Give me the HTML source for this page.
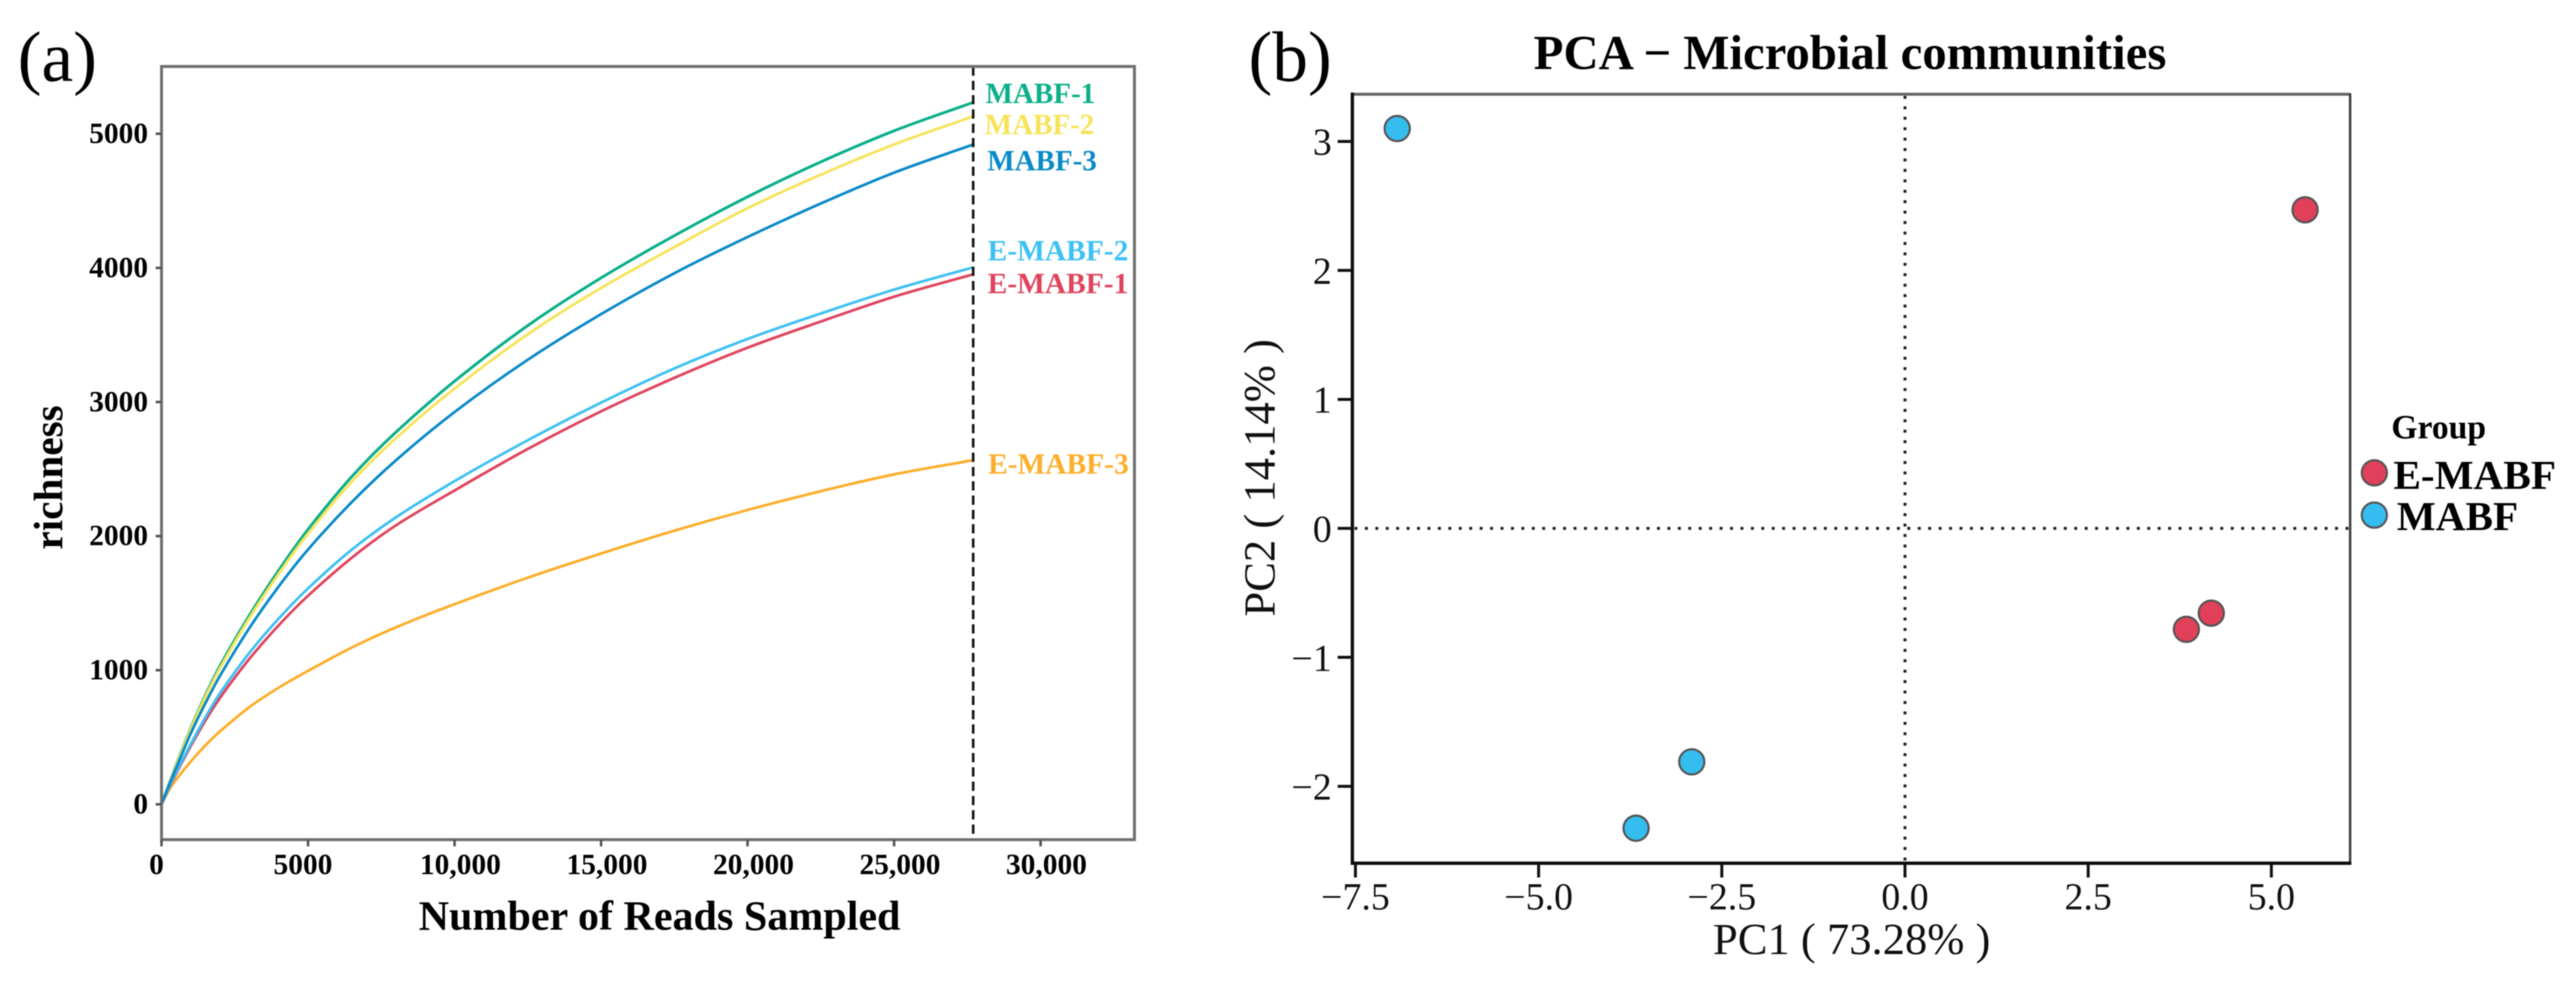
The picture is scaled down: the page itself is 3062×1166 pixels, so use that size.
<!DOCTYPE html>
<html lang="en">
<head>
<meta charset="utf-8">
<title>Rarefaction curves and PCA of microbial communities</title>
<style>
html,body{margin:0;padding:0;background:#fff;}
body{width:3062px;height:1166px;overflow:hidden;}
svg{display:block;filter:blur(0.5px);font-family:"Liberation Serif",serif;}
.bold{font-weight:bold;}
</style>
</head>
<body>
<svg id="figure" xmlns="http://www.w3.org/2000/svg" width="3062" height="1166" viewBox="0 0 3062 1166">
  <rect x="0" y="0" width="3062" height="1166" fill="#fff"/>

  <g id="panel-a">
    <text x="21" y="96" font-size="85" fill="#000">(a)</text>
    <g id="a-marks"></g>
    <rect x="192" y="79" width="1156.5" height="919" fill="none" stroke="#6f6f6f" stroke-width="3.5"/>
    <g id="a-ticks"></g>
    <text class="bold" x="784" y="1105" font-size="50" text-anchor="middle" fill="#000">Number of Reads Sampled</text>
    <text class="bold" transform="translate(74 567.5) rotate(-90)" font-size="49" text-anchor="middle" fill="#000">richness</text>
  </g>

  <g id="panel-b">
    <text x="1484" y="96" font-size="85" fill="#000">(b)</text>
    <text class="bold" x="2199" y="82" font-size="58" text-anchor="middle" fill="#000">PCA − Microbial communities</text>
    <line x1="1607" y1="112" x2="2794" y2="112" stroke="#666" stroke-width="3.5"/>
    <line x1="2793.5" y1="111" x2="2793.5" y2="1027" stroke="#444" stroke-width="3"/>
    <line x1="1607.5" y1="110" x2="1607.5" y2="1028" stroke="#111" stroke-width="4"/>
    <line x1="1606" y1="1026" x2="2795" y2="1026" stroke="#111" stroke-width="4"/>
    <g id="b-marks"></g>
    <g id="b-ticks"></g>
    <text x="2201" y="1134" font-size="53" text-anchor="middle" fill="#111">PC1 ( 73.28% )</text>
    <text transform="translate(1515 568) rotate(-90)" font-size="53" text-anchor="middle" fill="#111">PC2 ( 14.14% )</text>

    <g>
      <text class="bold" x="2842.5" y="521" font-size="40" fill="#000">Group</text>
      <circle cx="2822.3" cy="562" r="15" fill="#e0405a" stroke="#555" stroke-width="2.5"/>
      <text class="bold" x="2845" y="581" font-size="49" fill="#000">E-MABF</text>
      <circle cx="2822.3" cy="612.3" r="15" fill="#35bdef" stroke="#555" stroke-width="2.5"/>
      <text class="bold" x="2849" y="630" font-size="49" fill="#000">MABF</text>
    </g>
  </g>
</svg>
<script>
// Rarefaction chart data
const readsSampled = [0,250,500,1000,1500,2000,3000,4000,5000,6500,8000,10000,12500,15000,17500,20000,22500,25000,27700];
const mabf1  = [0,150,295,570,815,1035,1410,1745,2050,2445,2775,3155,3570,3925,4240,4530,4790,5022,5234];
const mabf2  = [0,148,290,562,803,1018,1390,1720,2020,2408,2730,3100,3505,3850,4155,4445,4695,4920,5130];
const mabf3  = [0,140,272,530,755,960,1315,1625,1900,2255,2565,2925,3315,3655,3960,4230,4480,4710,4920];
const emabf1 = [0,120,230,435,625,795,1085,1335,1555,1840,2080,2340,2650,2930,3180,3405,3600,3785,3952];
const emabf2 = [0,125,240,450,650,830,1130,1385,1610,1900,2140,2410,2715,2995,3250,3470,3660,3838,4004];
const emabf3 = [0,105,185,320,440,545,725,870,995,1170,1320,1492,1690,1870,2040,2195,2335,2460,2566];
const rarefactionDepth = 27700;
const richnessTicks = [0,1000,2000,3000,4000,5000];
const readsTicks = [0,5000,10000,15000,20000,25000,30000];
const readsTickLabels = ["0","5000","10,000","15,000","20,000","25,000","30,000"];

// PCA chart data
const emabfPc1 = [5.46,4.18,3.84];
const emabfPc2 = [2.47,-0.657,-0.783];
const mabfPc1 = [-6.93,-2.91,-3.67];
const mabfPc2 = [3.10,-1.81,-2.325];
const pc1Ticks = [-7.5,-5,-2.5,0,2.5,5];
const pc1TickLabels = ["−7.5","−5.0","−2.5","0.0","2.5","5.0"];
const pc2Ticks = [-2,-1,0,1,2,3];
const pc2TickLabels = ["−2","−1","0","1","2","3"];

const NS = "http://www.w3.org/2000/svg";
function mk(tag, parent, attrs) {
  const el = document.createElementNS(NS, tag);
  for (const k in attrs) el.setAttribute(k, attrs[k]);
  parent.appendChild(el);
  return el;
}

// Axis functions
function ax(v) { return 192 + 0.03483 * v; }
function ay(v) { return 956 - 0.1594 * v; }
function bx(v) { return 2264.4 + 87.1 * v; }
function by(v) { return 628 - 153.3 * v; }
function aLabelShift(v) { return v <= 5000 ? -6 : 7; }

function curvePath(xs, ys) {
  const px = xs.map(ax), py = ys.map(ay);
  const n = px.length;
  const m = [];
  for (let i = 0; i < n; i++) {
    const a = Math.max(i - 1, 0), b = Math.min(i + 1, n - 1);
    m.push((py[b] - py[a]) / (px[b] - px[a]));
  }
  let d = "M" + px[0].toFixed(2) + " " + py[0].toFixed(2);
  for (let i = 0; i < n - 1; i++) {
    const dx = px[i + 1] - px[i];
    d += "C" + (px[i] + dx / 3).toFixed(2) + " " + (py[i] + m[i] * dx / 3).toFixed(2) + " " +
         (px[i + 1] - dx / 3).toFixed(2) + " " + (py[i + 1] - m[i + 1] * dx / 3).toFixed(2) + " " +
         px[i + 1].toFixed(2) + " " + py[i + 1].toFixed(2);
  }
  return d;
}

const aMarks = document.getElementById("a-marks");
const aTicks = document.getElementById("a-ticks");
const bMarks = document.getElementById("b-marks");
const bTicks = document.getElementById("b-ticks");

// Rarefaction curves (drawn back to front)
const curveOrange = mk("path", aMarks, {d: curvePath(readsSampled, emabf3), fill: "none", stroke: "#fdae2b", "stroke-width": 3.2});


const curveRed = mk("path", aMarks, {d: curvePath(readsSampled, emabf1), fill: "none", stroke: "#e0455e", "stroke-width": 3.2});


const curveSky = mk("path", aMarks, {d: curvePath(readsSampled, emabf2), fill: "none", stroke: "#3fc1f3", "stroke-width": 3.2});


const curveGreen = mk("path", aMarks, {d: curvePath(readsSampled, mabf1), fill: "none", stroke: "#0cb08a", "stroke-width": 3.4});


const curveYellow = mk("path", aMarks, {d: curvePath(readsSampled, mabf2), fill: "none", stroke: "#f7e35a", "stroke-width": 3.2});


const curveBlue = mk("path", aMarks, {d: curvePath(readsSampled, mabf3), fill: "none", stroke: "#0a8ac9", "stroke-width": 3.2});



const depthLine = mk("line", aMarks, {x1: ax(rarefactionDepth), x2: ax(rarefactionDepth), y1: 79, y2: 998, stroke: "#111", "stroke-width": 3, "stroke-dasharray": "11 6"});



// End-of-curve labels
const lblM1 = mk("text", aMarks, {x: 1171.5, y: 122.5, "font-size": 34.5, "font-weight": "bold", fill: "#0cb08a"});
lblM1.textContent = "MABF-1";


const lblM2 = mk("text", aMarks, {x: 1170.5, y: 159.5, "font-size": 34.5, "font-weight": "bold", fill: "#f7e35a"});
lblM2.textContent = "MABF-2";


const lblM3 = mk("text", aMarks, {x: 1173.5, y: 202.5, "font-size": 34.5, "font-weight": "bold", fill: "#0a8ac9"});
lblM3.textContent = "MABF-3";


const lblE2 = mk("text", aMarks, {x: 1174, y: 309.5, "font-size": 35, "font-weight": "bold", fill: "#3fc1f3"});
lblE2.textContent = "E-MABF-2";


const lblE1 = mk("text", aMarks, {x: 1174, y: 348.5, "font-size": 35, "font-weight": "bold", fill: "#e0455e"});
lblE1.textContent = "E-MABF-1";


const lblE3 = mk("text", aMarks, {x: 1174.5, y: 563, "font-size": 35, "font-weight": "bold", fill: "#fdae2b"});
lblE3.textContent = "E-MABF-3";



// Rarefaction ticks
richnessTicks.forEach(function (v) {
  const t = mk("line", aTicks, {x1: 185, x2: 192, y1: ay(v), y2: ay(v), stroke: "#555", "stroke-width": 3});
  
  
  const l = mk("text", aTicks, {x: 176, y: ay(v) + 11, "font-size": 35, "font-weight": "bold", "text-anchor": "end", fill: "#000"});
  l.textContent = String(v);
  
  
});
readsTicks.forEach(function (v, i) {
  const t = mk("line", aTicks, {x1: ax(v), x2: ax(v), y1: 998, y2: 1006, stroke: "#555", "stroke-width": 3});
  
  
  const l = mk("text", aTicks, {x: ax(v) + aLabelShift(v), y: 1039, "font-size": 35, "font-weight": "bold", "text-anchor": "middle", fill: "#000"});
  l.textContent = readsTickLabels[i];
  
  
});

// PCA reference lines
const zeroV = mk("line", bMarks, {x1: bx(0), x2: bx(0), y1: 114, y2: 1024, stroke: "#222", "stroke-width": 3.5, "stroke-dasharray": "3.5 8.9"});


const zeroH = mk("line", bMarks, {x1: 1610, x2: 2792, y1: by(0), y2: by(0), stroke: "#222", "stroke-width": 3.5, "stroke-dasharray": "3.5 8.9"});



// PCA points
emabfPc1.forEach(function (v, i) {
  const c = mk("circle", bMarks, {cx: bx(v), cy: by(emabfPc2[i]), r: 15, fill: "#e0405a", stroke: "#555", "stroke-width": 2.5});
  
  
});
mabfPc1.forEach(function (v, i) {
  const c = mk("circle", bMarks, {cx: bx(v), cy: by(mabfPc2[i]), r: 15, fill: "#35bdef", stroke: "#555", "stroke-width": 2.5});
  
  
});

// PCA ticks
pc1Ticks.forEach(function (v, i) {
  const t = mk("line", bTicks, {x1: bx(v), x2: bx(v), y1: 1026, y2: 1043, stroke: "#111", "stroke-width": 3.5});
  
  
  const l = mk("text", bTicks, {x: bx(v), y: 1081, "font-size": 45, "text-anchor": "middle", fill: "#111"});
  l.textContent = pc1TickLabels[i];
  
  
});
pc2Ticks.forEach(function (v, i) {
  const t = mk("line", bTicks, {x1: 1590, x2: 1607, y1: by(v), y2: by(v), stroke: "#111", "stroke-width": 3.5});
  
  
  const l = mk("text", bTicks, {x: 1583, y: by(v) + 16, "font-size": 45, "text-anchor": "end", fill: "#111"});
  l.textContent = pc2TickLabels[i];
  
  
});
</script>
</body>
</html>
